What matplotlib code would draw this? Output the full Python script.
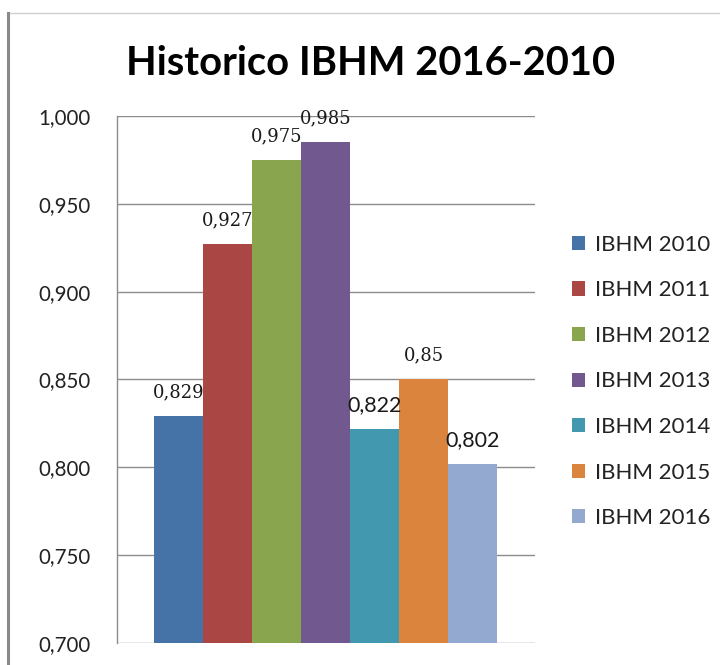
import matplotlib.pyplot as plt
from matplotlib.lines import Line2D

series = ["IBHM 2010", "IBHM 2011", "IBHM 2012", "IBHM 2013",
          "IBHM 2014", "IBHM 2015", "IBHM 2016"]
values = [0.829, 0.927, 0.975, 0.985, 0.822, 0.85, 0.802]
labels = ["0,829", "0,927", "0,975", "0,985", "0,822", "0,85", "0,802"]
label_serif = [True, True, True, True, False, True, False]
colors = ["#4572A7", "#AA4643", "#89A54E", "#71588F",
          "#4198AF", "#DB843D", "#93A9CF"]
yticks = [0.70, 0.75, 0.80, 0.85, 0.90, 0.95, 1.00]
ytick_labels = ["0,700", "0,750", "0,800", "0,850", "0,900", "0,950", "1,000"]

fig = plt.figure(figsize=(7.2, 6.65), dpi=100)
ax = fig.add_axes([0.1625, 0.0331, 0.5806, 0.7925])

# one category, seven series side by side
for i, (name, v, c) in enumerate(zip(series, values, colors)):
    ax.bar(i, v - 0.70, bottom=0.70, width=1.0, color=c, label=name, zorder=3)
    if label_serif[i]:
        fam, fs = "DejaVu Serif", 13
    else:
        fam, fs = "Lato", 15.5
    ax.annotate(labels[i], (i, v), xytext=(0, 17.3), textcoords="offset points",
                ha="center", va="center", fontsize=fs, family=fam,
                color="#1a1a1a", zorder=4)

ax.set_xlim(-1.255, 7.276)
ax.set_ylim(0.70, 1.00)
ax.set_yticks(yticks)
ax.set_yticklabels(ytick_labels, family="Lato", fontsize=14.8, color="#222222")
ax.tick_params(axis="y", length=0, pad=19)
ax.set_xticks([])
ax.grid(axis="y", color="#8c8c8c", linewidth=1, zorder=0)
for s in ["top", "right", "bottom"]:
    ax.spines[s].set_visible(False)
ax.spines["left"].set_color("#8c8c8c")
ax.spines["left"].set_linewidth(1)

fig.text(0.514, 0.904, "Historico IBHM 2016-2010", ha="center", va="center",
         family="Lato", fontweight="bold", fontsize=28.7, color="black")

leg = fig.legend(loc="upper left", bbox_to_anchor=(0.766, 0.677), frameon=False,
                 prop={"family": "Lato", "size": 16}, handlelength=0.6,
                 handleheight=0.6, handletextpad=0.45, labelspacing=1.15,
                 labelcolor="#222222")

# outer chart border (top and left edges)
fig.add_artist(Line2D([0.011, 1.0], [0.98, 0.98], color="#d0d0d0", linewidth=1))
fig.add_artist(Line2D([0.011, 0.011], [0.0, 0.98], color="#8a8a8a", linewidth=2.2))

fig.savefig("out.png", dpi=100)
